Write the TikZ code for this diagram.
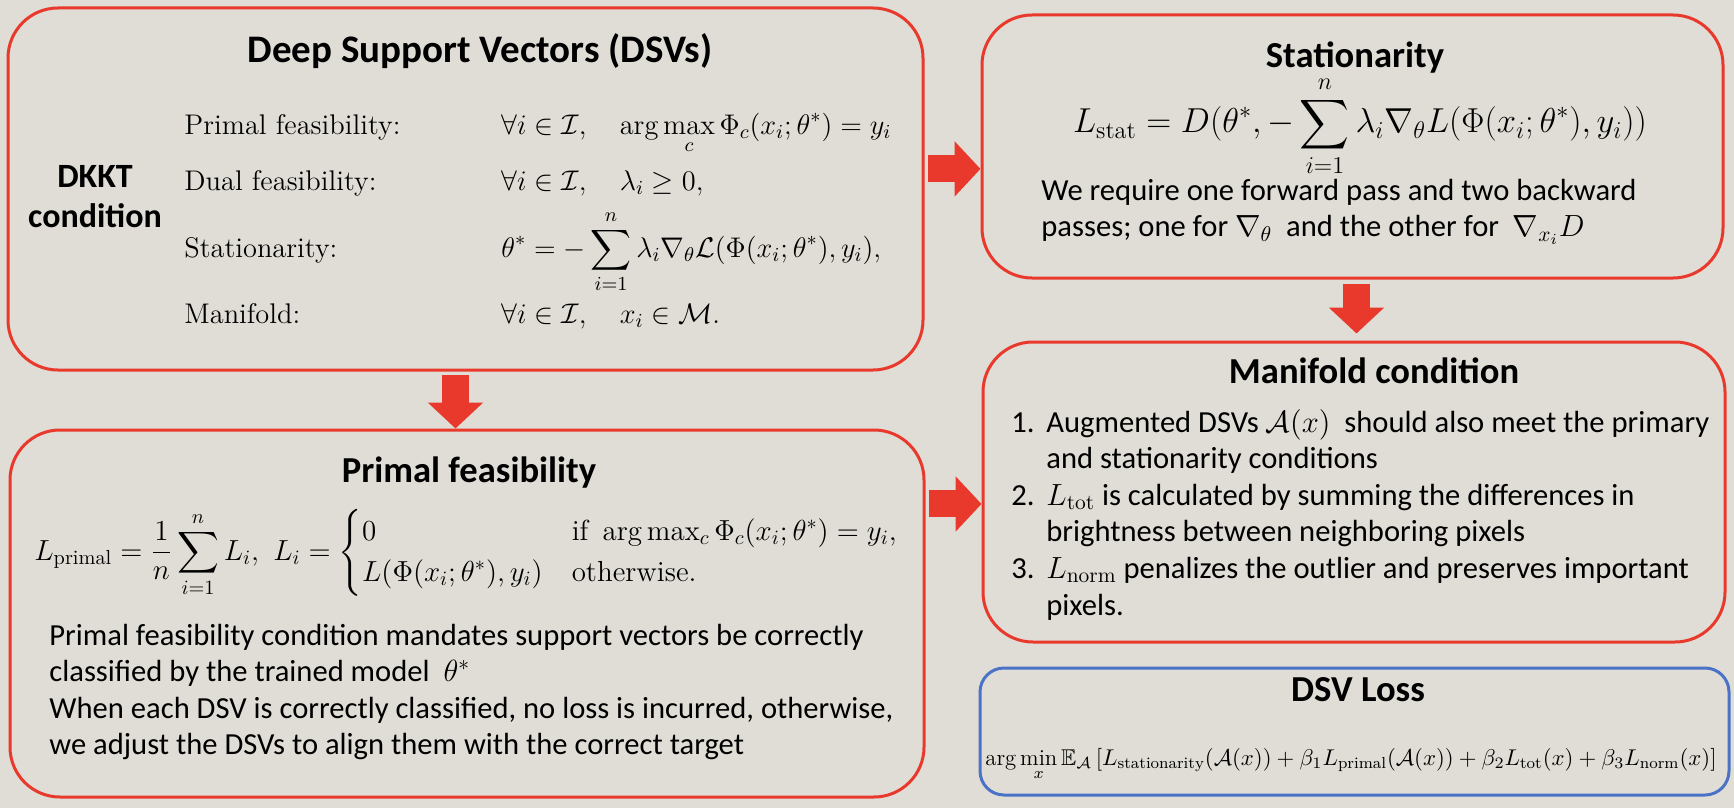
\RequirePackage{fix-cm}
\documentclass[tikz,border=0pt]{standalone}
\usepackage{amsmath}
\usepackage{amssymb}
\usepackage{fontspec}
\newfontfamily\bodyfont{Carlito}
\usepackage{tikz}
\usetikzlibrary{positioning,calc,arrows.meta}

\definecolor{bgcol}{HTML}{DFDDD5}
\definecolor{boxred}{HTML}{E8392C}
\definecolor{boxblue}{HTML}{4A72C6}

% lines of a text block, baseline at the first line
\newcommand{\textlines}[1]{\begin{tabular}[t]{@{}l@{}}#1\end{tabular}}

\tikzset{
  panel/.style={rectangle,draw=boxred,line width=1.5pt,rounded corners=25pt},
  losspanel/.style={rectangle,draw=boxblue,line width=1.5pt,rounded corners=12pt},
  headtext/.style={font=\bodyfont\bfseries\fontsize{18.3}{22}\selectfont,anchor=base,inner sep=0pt},
  body/.style={font=\bodyfont\fontsize{15.3}{18.3}\selectfont,anchor=base west,inner sep=0pt},
  eq/.style={font=\fontsize{14.2}{17}\selectfont,anchor=base west,inner sep=0pt},
  bigarrow/.style={draw=boxred,line width=13.5pt,-{Triangle[length=13pt,width=27pt]}}
}

\begin{document}
\begin{tikzpicture}[x=0.5pt,y=-0.5pt]
    % Background
    \fill[bgcol] (0,0) rectangle (1734,808);

    % Panels
    \node[panel,minimum width=457.5pt,minimum height=181pt] (dsv) at (465.5,189) {};
    \node[panel,minimum width=457pt,minimum height=183.5pt] (primal) at (467,613.5) {};
    \node[panel,minimum width=370.5pt,minimum height=131.5pt] (stat) at (1352.5,146.5) {};
    \node[panel,minimum width=371pt,minimum height=150pt] (manifold) at (1354,492) {};
    \node[losspanel,minimum width=374.5pt,minimum height=63.5pt] (loss) at (1354.5,731.5) {};

    % Deep support vectors
    \node[headtext,font=\bodyfont\bfseries\fontsize{19.5}{23}\selectfont] (dsvTitle) at (480,63) {Deep Support Vectors (DSVs)};
    \node[font=\bodyfont\bfseries\fontsize{17}{20}\selectfont,align=center] (dkkt) at (95,197) {DKKT\\condition};
    \node[eq] (lblPrimal) at (184,134) {Primal feasibility:};
    \node[eq] (lblDual) at (184,190) {Dual feasibility:};
    \node[eq] (lblStat) at (184,257) {Stationarity:};
    \node[eq] (lblManifold) at (184,323) {Manifold:};
    \node[eq] (eqPrimal) at (501,134) {$\displaystyle \forall i \in \mathcal{I}, \quad \arg\max_c \Phi_c(x_i;\theta^*) = y_i$};
    \node[eq] (eqDual) at (501,190) {$\forall i \in \mathcal{I}, \quad \lambda_i \geq 0,$};
    \node[eq] (eqStat) at (501,257) {$\displaystyle \theta^* = -\sum_{i=1}^{n} \lambda_i \nabla_\theta \mathcal{L}(\Phi(x_i;\theta^*), y_i),$};
    \node[eq] (eqManifold) at (501,323) {$\forall i \in \mathcal{I}, \quad x_i \in \mathcal{M}.$};

    % Primal feasibility
    \node[headtext] (primalTitle) at (469,482) {Primal feasibility};
    \node[eq,font=\fontsize{14.5}{17}\selectfont] (primalEq) at (34,560) {$\displaystyle L_{\mathrm{primal}} = \frac{1}{n}\sum_{i=1}^{n} L_i,\ L_i = \begin{cases} 0 & \text{if } \arg\max_c \Phi_c(x_i;\theta^*) = y_i,\\ L(\Phi(x_i;\theta^*), y_i) & \text{otherwise.}\end{cases}$};
    \node[body] (primalText) at (49,645) {\textlines{Primal feasibility condition mandates support vectors be correctly\\classified by the trained model \ $\theta^*$\\When each DSV is correctly classified, no loss is incurred, otherwise,\\we adjust the DSVs to align them with the correct target}};

    % Stationarity
    \node[headtext] (statTitle) at (1355,68) {Stationarity};
    \node[eq,anchor=base,font=\fontsize{17.3}{20}\selectfont] (statEq) at (1360,133) {$\displaystyle L_{\mathrm{stat}} = D(\theta^*, -\sum_{i=1}^{n} \lambda_i \nabla_\theta L(\Phi(x_i;\theta^*), y_i))$};
    \node[body] (statText) at (1041,200) {\textlines{We require one forward pass and two backward\\passes; one for $\nabla_\theta$ \ and the other for \ $\nabla_{x_i} D$}};

    % Manifold condition
    \node[headtext] (manifoldTitle) at (1374,383) {Manifold condition};
    \node[body] (manifoldList) at (1011,432) {\begin{tabular}[t]{@{}p{17.5pt}@{}l@{}}
      1. & Augmented DSVs $\mathcal{A}(x)$ \ should also meet the primary\\
         & and stationarity conditions\\
      2. & $L_{\mathrm{tot}}$ is calculated by summing the differences in\\
         & brightness between neighboring pixels\\
      3. & $L_{\mathrm{norm}}$ penalizes the outlier and preserves important\\
         & pixels.
    \end{tabular}};

    % DSV loss
    \node[headtext] (lossTitle) at (1358,701) {DSV Loss};
    \node[eq,anchor=base,font=\fontsize{11.4}{14}\selectfont] (lossEq) at (1351,765) {$\displaystyle \arg\min_x \mathbb{E}_{\mathcal{A}}\left[L_{\mathrm{stationarity}}(\mathcal{A}(x)) + \beta_1 L_{\mathrm{primal}}(\mathcal{A}(x)) + \beta_2 L_{\mathrm{tot}}(x) + \beta_3 L_{\mathrm{norm}}(x)\right]$};

    % Arrows
    \coordinate (dsvR) at ($(dsv.north east)!0.445!(dsv.south east)$);
    \draw[bigarrow] ([xshift=1.5pt]dsvR) -- (dsvR -| stat.west);
    \coordinate (primalR) at ($(primal.north east)!0.204!(primal.south east)$);
    \draw[bigarrow] ([xshift=1.5pt]primalR) -- (primalR -| manifold.west);
    \coordinate (dsvB) at ([xshift=-5pt]dsv.south);
    \draw[bigarrow] ([yshift=-1.5pt]dsvB) -- (dsvB |- primal.north);
    \coordinate (statB) at ([xshift=2pt]stat.south);
    \coordinate (manT) at (statB |- manifold.north);
    \draw[bigarrow] ([yshift=-2pt]statB) -- ([yshift=3.5pt]manT);
\end{tikzpicture}
\end{document}
